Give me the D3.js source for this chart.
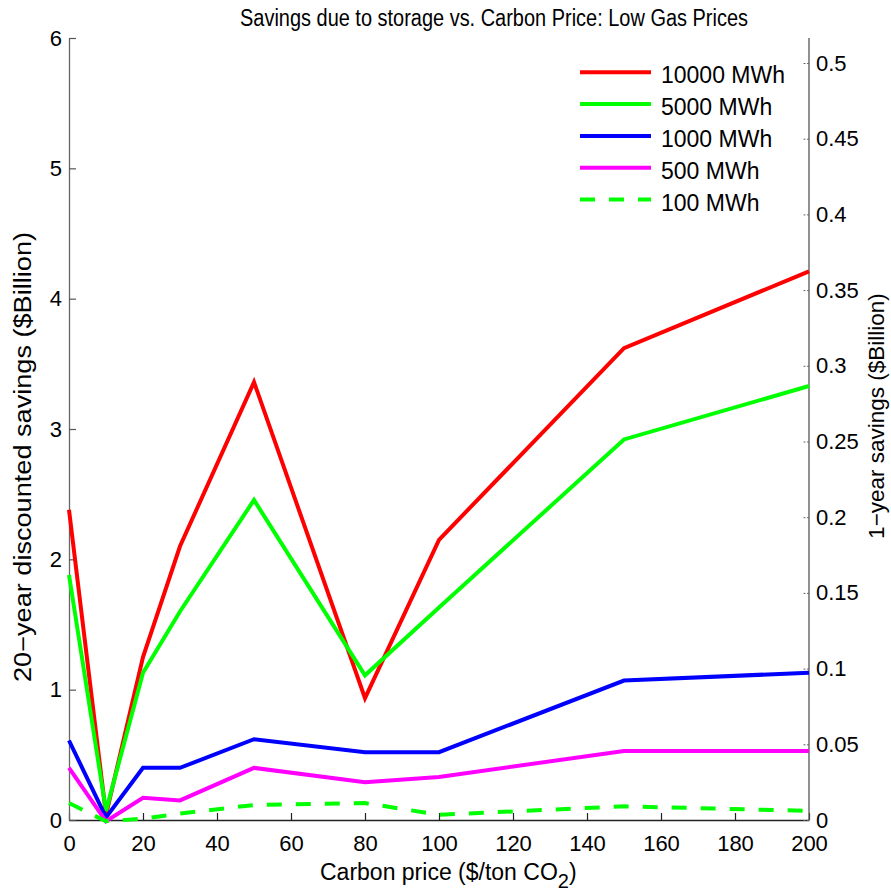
<!DOCTYPE html>
<html>
<head>
<meta charset="utf-8">
<script src="https://cdn.jsdelivr.net/npm/d3@7"></script>
<style>
  html, body { margin: 0; padding: 0; background: #fff; }
  svg { display: block; }
  text { font-family: "Liberation Sans", Arial, sans-serif; fill: #000; }
</style>
</head>
<body>
<svg id="chart" width="891" height="892"></svg>
<script>
// Carbon prices ($/ton CO2)
const carbonPrice = [0, 10, 20, 30, 50, 80, 100, 150, 200];

// 20-year discounted savings ($Billion) per storage size
const s10000 = [2.38, 0.04, 1.25, 2.10, 3.36, 0.935, 2.15, 3.62, 4.21];
const s5000  = [1.88, 0.07, 1.13, 1.60, 2.455, 1.11, 1.63, 2.92, 3.33];
const s1000  = [0.61, 0.02, 0.40, 0.40, 0.62, 0.52, 0.52, 1.07, 1.13];
const s500   = [0.40, -0.01, 0.17, 0.15, 0.40, 0.29, 0.33, 0.53, 0.53];
const s100   = [0.13, -0.01, 0.01, 0.05, 0.115, 0.13, 0.04, 0.105, 0.07];

const seriesNames  = ["10000 MWh", "5000 MWh", "1000 MWh", "500 MWh", "100 MWh"];
const seriesColors = ["#ff0000", "#00ff00", "#0000ff", "#ff00ff", "#00ff00"];
const seriesDashed = [false, false, false, false, true];
const seriesValues = [s10000, s5000, s1000, s500, s100];

const xTicks = [0, 20, 40, 60, 80, 100, 120, 140, 160, 180, 200];
const yLeftTicks = [0, 1, 2, 3, 4, 5, 6];
const yRightTicks = [0, 0.05, 0.1, 0.15, 0.2, 0.25, 0.3, 0.35, 0.4, 0.45, 0.5];

const svg = d3.select("#chart");
const plotL = 69, plotR = 809, plotT = 38, plotB = 820;

const x = d3.scaleLinear().domain([0, 200]).range([plotL, plotR]);
const yL = d3.scaleLinear().domain([0, 6]).range([plotB, plotT]);
// the 1-year axis shares the frame: 0.5 sits at 63 px
const yR = d3.scaleLinear().domain([0, 0.5]).range([plotB, 63]);

const FONT = "'Liberation Sans', Arial, sans-serif";
const TICK_FS = "22px";

// title
svg.append("text")
  .attr("x", 240).attr("y", 26)
  .attr("textLength", 508).attr("lengthAdjust", "spacingAndGlyphs")
  .style("font-size", "23px")
  .text("Savings due to storage vs. Carbon Price: Low Gas Prices");

// bottom axis
const gx = svg.append("g").attr("transform", `translate(0,${plotB})`)
  .call(d3.axisBottom(x).tickValues(xTicks).tickSizeInner(-7).tickSizeOuter(0).tickPadding(15));
gx.select(".domain").attr("stroke", "#222").attr("stroke-width", 1.3);
gx.selectAll(".tick line").attr("stroke", "#222").attr("stroke-width", 1.2);
gx.selectAll("text").style("font-size", TICK_FS).style("font-family", FONT).attr("fill", "#000");

// left axis
const gyl = svg.append("g").attr("transform", `translate(${plotL},0)`)
  .call(d3.axisLeft(yL).tickValues(yLeftTicks).tickFormat(d3.format("d")).tickSizeInner(-7).tickSizeOuter(0).tickPadding(7));
gyl.select(".domain").attr("stroke", "#666").attr("stroke-width", 1.3);
gyl.selectAll(".tick line").attr("stroke", "#555").attr("stroke-width", 1.2);
gyl.selectAll("text").style("font-size", TICK_FS).style("font-family", FONT).attr("fill", "#000");

// right axis
const gyr = svg.append("g").attr("transform", `translate(${plotR},0)`)
  .call(d3.axisRight(yR).tickValues(yRightTicks).tickFormat(d => String(d)).tickSizeInner(-7).tickSizeOuter(0).tickPadding(7));
gyr.select(".domain").attr("d", `M0,${plotT}V${plotB}`).attr("stroke", "#555").attr("stroke-width", 1.3);
gyr.selectAll(".tick line").attr("stroke", "#666").attr("stroke-width", 1).attr("stroke-dasharray", "2,1.5");
gyr.selectAll("text").style("font-size", TICK_FS).style("font-family", FONT).attr("fill", "#000");

// axis labels
const xl = svg.append("text")
  .attr("x", 320).attr("y", 880)
  .style("font-size", "23px");
xl.append("tspan").text("Carbon price ($/ton CO");
xl.append("tspan").attr("dy", 8).style("font-size", "20px").text("2");
xl.append("tspan").attr("dy", -8).text(")");

svg.append("text")
  .attr("transform", `translate(31,457) rotate(-90)`)
  .attr("text-anchor", "middle")
  .attr("textLength", 450).attr("lengthAdjust", "spacingAndGlyphs")
  .style("font-size", "23px")
  .text("20\u2212year discounted savings ($Billion)");

svg.append("text")
  .attr("transform", `translate(884,416) rotate(-90)`)
  .attr("text-anchor", "middle")
  .style("font-size", "22.5px")
  .text("1\u2212year savings ($Billion)");

// series lines
const line = d3.line().x((d, i) => x(carbonPrice[i])).y(d => yL(d));
seriesValues.forEach((vals, k) => {
  svg.append("path")
    .datum(vals)
    .attr("d", line)
    .attr("fill", "none")
    .attr("stroke", seriesColors[k])
    .attr("stroke-width", 4)
    .attr("stroke-linejoin", "miter")
    .attr("stroke-dasharray", seriesDashed[k] ? "15,14" : null);
});

// legend
const leg = svg.append("g");
seriesNames.forEach((name, k) => {
  const yy = 72.3 + k * 31.8;
  leg.append("line")
    .attr("x1", 580).attr("x2", 651).attr("y1", yy).attr("y2", yy)
    .attr("stroke", seriesColors[k]).attr("stroke-width", 4)
    .attr("stroke-dasharray", seriesDashed[k] ? "15,14" : null);
  leg.append("text")
    .attr("x", 661).attr("y", yy + 11)
    .style("font-size", "23px")
    .text(name);
});
</script>
</body>
</html>
